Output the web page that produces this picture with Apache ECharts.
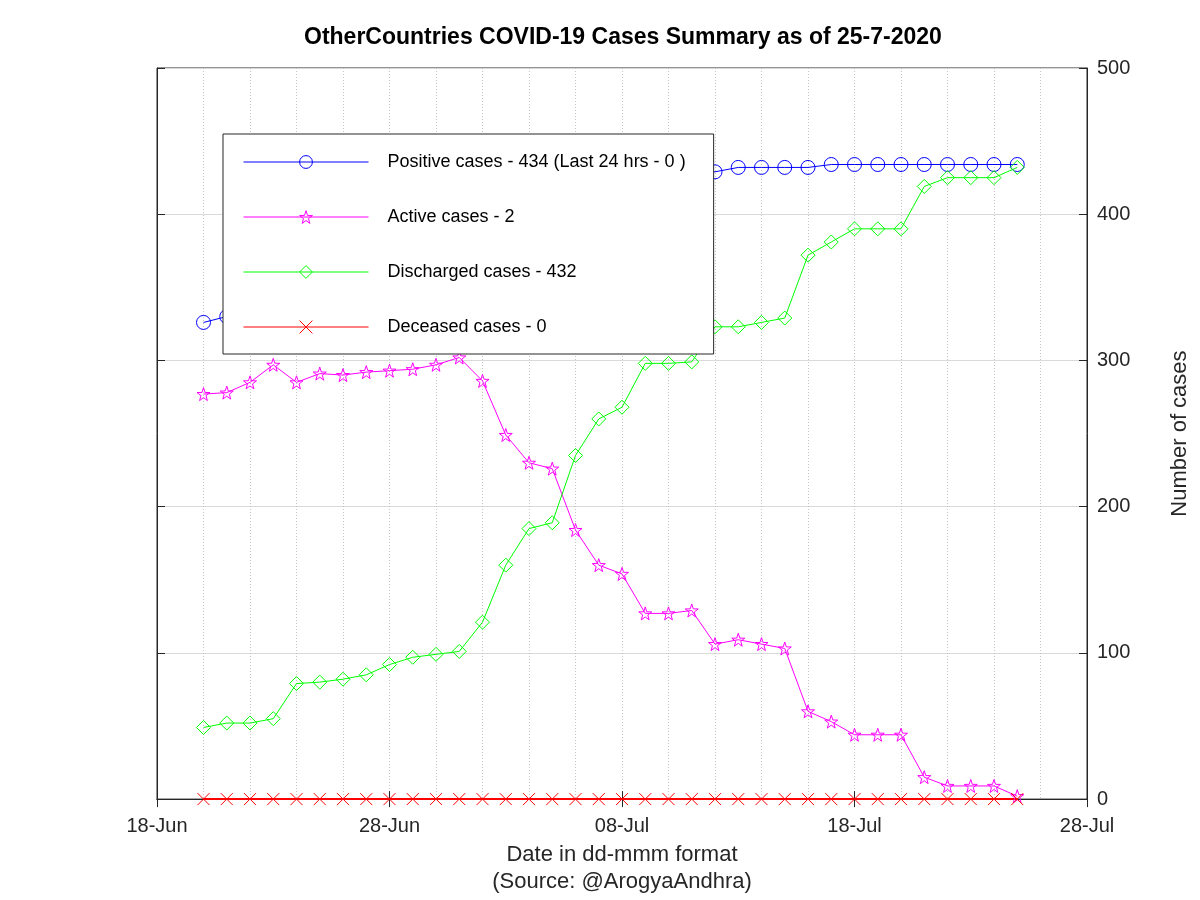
<!DOCTYPE html>
<html>
<head>
<meta charset="utf-8">
<script src="https://cdn.jsdelivr.net/npm/echarts@6/dist/echarts.min.js"></script>
<style>html,body{margin:0;padding:0;background:#fff}#c{width:1200px;height:900px}</style>
</head>
<body>
<div id="c"></div>
<script>
const dates = ['2020-06-20','2020-06-21','2020-06-22','2020-06-23','2020-06-24','2020-06-25','2020-06-26','2020-06-27','2020-06-28','2020-06-29','2020-06-30','2020-07-01','2020-07-02','2020-07-03','2020-07-04','2020-07-05','2020-07-06','2020-07-07','2020-07-08','2020-07-09','2020-07-10','2020-07-11','2020-07-12','2020-07-13','2020-07-14','2020-07-15','2020-07-16','2020-07-17','2020-07-18','2020-07-19','2020-07-20','2020-07-21','2020-07-22','2020-07-23','2020-07-24','2020-07-25'];
const positive = [326,330,337,352,364,371,372,377,385,391,396,403,407,409,415,415,419,420,422,425,425,428,429,432,432,432,432,434,434,434,434,434,434,434,434,434];
const active = [277,278,285,297,285,291,290,292,293,294,297,302,286,249,230,226,184,160,154,127,127,129,106,109,106,103,60,53,44,44,44,15,9,9,9,2];
const discharged = [49,52,52,55,79,80,82,85,92,97,99,101,121,160,185,189,235,260,268,298,298,299,323,323,326,329,372,381,390,390,390,419,425,425,425,432];
const deceased = [0,0,0,0,0,0,0,0,0,0,0,0,0,0,0,0,0,0,0,0,0,0,0,0,0,0,0,0,0,0,0,0,0,0,0,0];
const xStart = '2020-06-18', xEnd = '2020-07-28';
const yTicks = [0,100,200,300,400,500];
const seriesNames = ['Positive cases - 434 (Last 24 hrs - 0 )','Active cases - 2','Discharged cases - 432','Deceased cases - 0'];

const DAY = 86400000;
const ts = s => Date.parse(s + 'T00:00:00Z');
const months = ['Jan','Feb','Mar','Apr','May','Jun','Jul','Aug','Sep','Oct','Nov','Dec'];
const fmt = v => { const d = new Date(v); const dd = d.getUTCDate(); return (dd < 10 ? '0' : '') + dd + '-' + months[d.getUTCMonth()]; };
const pts = arr => arr.map((v, i) => [ts(dates[i]), v]);

const FONT = 'Liberation Sans';
const starPath = 'path://M50,0L61.8,35.1L98.9,35.6L69.1,57.7L79.4,93.1L50,72L20.6,93.1L30.9,57.7L1.1,35.6L38.2,35.1Z';
const crossPath = 'path://M0,0L100,100M100,0L0,100';

function mk(name, data, color, symbol, size, lw) {
  return {
    name: name, type: 'line', data: pts(data), xAxisIndex: 0, yAxisIndex: 0,
    symbol: symbol, symbolSize: size, showSymbol: true, animation: false,
    color: color, z: 5,
    lineStyle: { color: color, width: lw || 1 },
    itemStyle: { color: 'rgba(255,255,255,0)', borderColor: color, borderWidth: 1 },
    emphasis: { disabled: true }
  };
}
const colors = ['#0000ff', '#ff00ff', '#00ff00', '#ff0000'];

const chart = echarts.init(document.getElementById('c'), null, { renderer: 'canvas' });
const xBase = {
  type: 'value', min: ts(xStart), max: ts(xEnd), interval: 10 * DAY,
  axisLine: { show: true, lineStyle: { color: '#262626', width: 1 } },
  axisTick: { show: true, inside: true, length: 8, lineStyle: { color: '#262626' } },
};
const option = {
  animation: false,
  textStyle: { fontFamily: FONT },
  title: {
    text: 'OtherCountries COVID-19 Cases Summary as of 25-7-2020',
    left: 299, top: 21,
    textStyle: { fontFamily: FONT, fontSize: 23, fontWeight: 'bold', color: '#000' }
  },
  grid: { left: 157, right: 113, top: 68, bottom: 96, show: true, borderColor: '#262626', borderWidth: 1, backgroundColor: '#fff' },
  legend: {
    orient: 'vertical', left: 223, top: 134,
    data: seriesNames.map((n, i) => ({ name: n, itemStyle: { color: 'rgba(255,255,255,0)', borderColor: colors[i], borderWidth: 1 }, lineStyle: { color: colors[i], width: 1 } })),
    itemWidth: 125, itemHeight: 16, itemGap: 37,
    padding: [19, 28, 18, 20],
    backgroundColor: '#fff', borderColor: '#262626', borderWidth: 1,
    textStyle: { fontFamily: FONT, fontSize: 18, color: '#000', lineHeight: 18, padding: [0, 0, 0, 14] },
    selectedMode: false, z: 10
  },
  xAxis: [
    Object.assign({}, xBase, {
      position: 'bottom',
      axisLabel: { show: true, formatter: fmt, fontFamily: FONT, fontSize: 20, color: '#262626', margin: 17, showMinLabel: true, showMaxLabel: true },
      splitLine: { show: true, lineStyle: { color: '#c4c4c4', type: [1, 2], width: 1 } },
      minorTick: { show: false, splitNumber: 5 },
      minorSplitLine: { show: true, lineStyle: { color: '#c4c4c4', type: [1, 2], width: 1 } },
      name: 'Date in dd-mmm format\n(Source: @ArogyaAndhra)',
      nameLocation: 'middle', nameGap: 41,
      nameTextStyle: { fontFamily: FONT, fontSize: 22, color: '#262626', lineHeight: 27 }
    }),
    Object.assign({}, xBase, {
      position: 'top',
      axisLabel: { show: false },
      splitLine: { show: false }
    })
  ],
  yAxis: [
    {
      type: 'value', position: 'right', min: yTicks[0], max: yTicks[yTicks.length - 1], interval: 100,
      axisLine: { show: true, lineStyle: { color: '#262626' } },
      axisTick: { show: true, inside: true, length: 8, lineStyle: { color: '#262626' } },
      axisLabel: { fontFamily: FONT, fontSize: 20, color: '#262626', margin: 10 },
      splitLine: { show: true, lineStyle: { color: '#d9d9d9', width: 1 } },
      name: 'Number of cases', nameLocation: 'middle', nameGap: 82, nameRotate: 90,
      nameTextStyle: { fontFamily: FONT, fontSize: 22, color: '#262626' }
    },
    {
      type: 'value', position: 'left', min: yTicks[0], max: yTicks[yTicks.length - 1], interval: 100,
      axisLine: { show: true, lineStyle: { color: '#262626' } },
      axisTick: { show: true, inside: true, length: 8, lineStyle: { color: '#262626' } },
      axisLabel: { show: false },
      splitLine: { show: false }
    }
  ],
  series: [
    mk(seriesNames[0], positive, colors[0], 'circle', 14),
    mk(seriesNames[1], active, colors[1], starPath, 13),
    mk(seriesNames[2], discharged, colors[2], 'diamond', 14),
    mk(seriesNames[3], deceased, colors[3], crossPath, 12, 2)
  ]
};
chart.setOption(option);
</script>
</body>
</html>
